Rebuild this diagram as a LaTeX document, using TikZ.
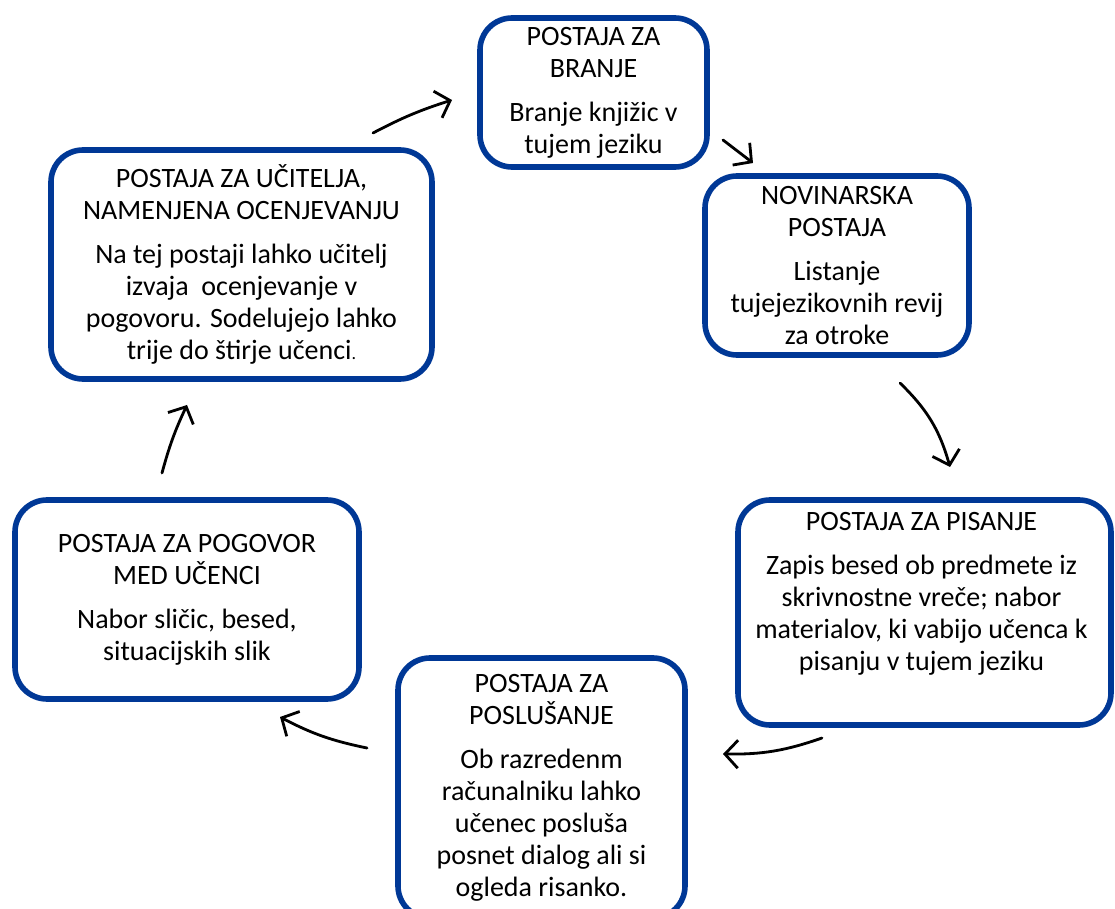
\documentclass[tikz,border=0pt]{standalone}
\usepackage{fontspec}
\setmainfont{Carlito}
\usetikzlibrary{arrows.meta}
\definecolor{modra}{RGB}{0,56,150}

\begin{document}
\begin{tikzpicture}[x=0.5pt, y=-0.5pt, line join=round]
        \tikzstyle{postaja}=[draw=modra, line width=2.8pt, rounded corners=16pt, fill=white, outer sep=0pt, inner sep=0pt]
        \tikzstyle{besedilo}=[align=center, font=\fontsize{14}{16}\selectfont, inner sep=0pt]
        \tikzstyle{strelica}=[-{Straight Barb[length=6.5pt,width=14pt]}, line width=1.4pt, line cap=round, black]

        \useasboundingbox (0,0) rectangle (1115,909);

        \node[postaja, minimum width=113.5pt, minimum height=74.5pt] (branje) at (593.5,92.5) {};
        \node[postaja, minimum width=132pt, minimum height=89.5pt] (novinarska) at (837,265.5) {};
        \node[postaja, minimum width=186.5pt, minimum height=112.5pt] (pisanje) at (924.5,612.5) {};
        \node[postaja, minimum width=143.5pt, minimum height=130pt] (poslusanje) at (541.5,788) {};
        \node[postaja, minimum width=172pt, minimum height=99.5pt] (pogovor) at (187,599.5) {};
        \node[postaja, minimum width=190.5pt, minimum height=114.5pt] (ucitelj) at (241.5,264.5) {};

        \node[besedilo] (branje-t) at (branje) {POSTAJA ZA\\BRANJE\\[6pt]Branje knjižic v\\tujem jeziku};
        \node[besedilo] (novinarska-t) at (novinarska) {NOVINARSKA\\POSTAJA\\[6pt]Listanje\\tujejezikovnih revij\\za otroke};
        \node[besedilo] (pisanje-t) at ([shift={(-3,-19)}]pisanje.center) {POSTAJA ZA PISANJE\\[6pt]Zapis besed ob predmete iz\\skrivnostne vreče; nabor\\materialov, ki vabijo učenca k\\pisanju v tujem jeziku};
        \node[besedilo] (poslusanje-t) at (poslusanje) {POSTAJA ZA\\POSLUŠANJE\\[6pt]Ob razredenm\\računalniku lahko\\učenec posluša\\posnet dialog ali si\\ogleda risanko.};
        \node[besedilo] (pogovor-t) at (pogovor) {POSTAJA ZA POGOVOR\\MED UČENCI\\[6pt]Nabor sličic, besed,\\situacijskih slik};
        \node[besedilo] (ucitelj-t) at (ucitelj) {POSTAJA ZA UČITELJA,\\NAMENJENA OCENJEVANJU\\[6pt]Na tej postaji lahko učitelj\\izvaja~ ocenjevanje v\\pogovoru. Sodelujejo lahko\\trije do štirje učenci{\small.}};

        \path[strelica]
            ([shift={(-59,-17)}]ucitelj.north east) edge[bend left=5] ([shift={(-28,-67)}]branje.south west)
            ([shift={(16,-27)}]branje.south east) edge ([shift={(48,-13)}]novinarska.north west)
            ([shift={(63,28)}]novinarska.south) edge[bend left=15] ([shift={(25.5,-33)}]pisanje.north)
            ([shift={(84,13)}]pisanje.south west) edge[bend left=10] ([shift={(38,96)}]poslusanje.north east)
            ([shift={(-31,90)}]poslusanje.north west) edge[bend left=8] ([shift={(-79,18)}]pogovor.south east)
            ([shift={(-25,-27)}]pogovor.north) edge[bend left=5] ([shift={(-54.5,26)}]ucitelj.south)
        ;
\end{tikzpicture}
\end{document}
